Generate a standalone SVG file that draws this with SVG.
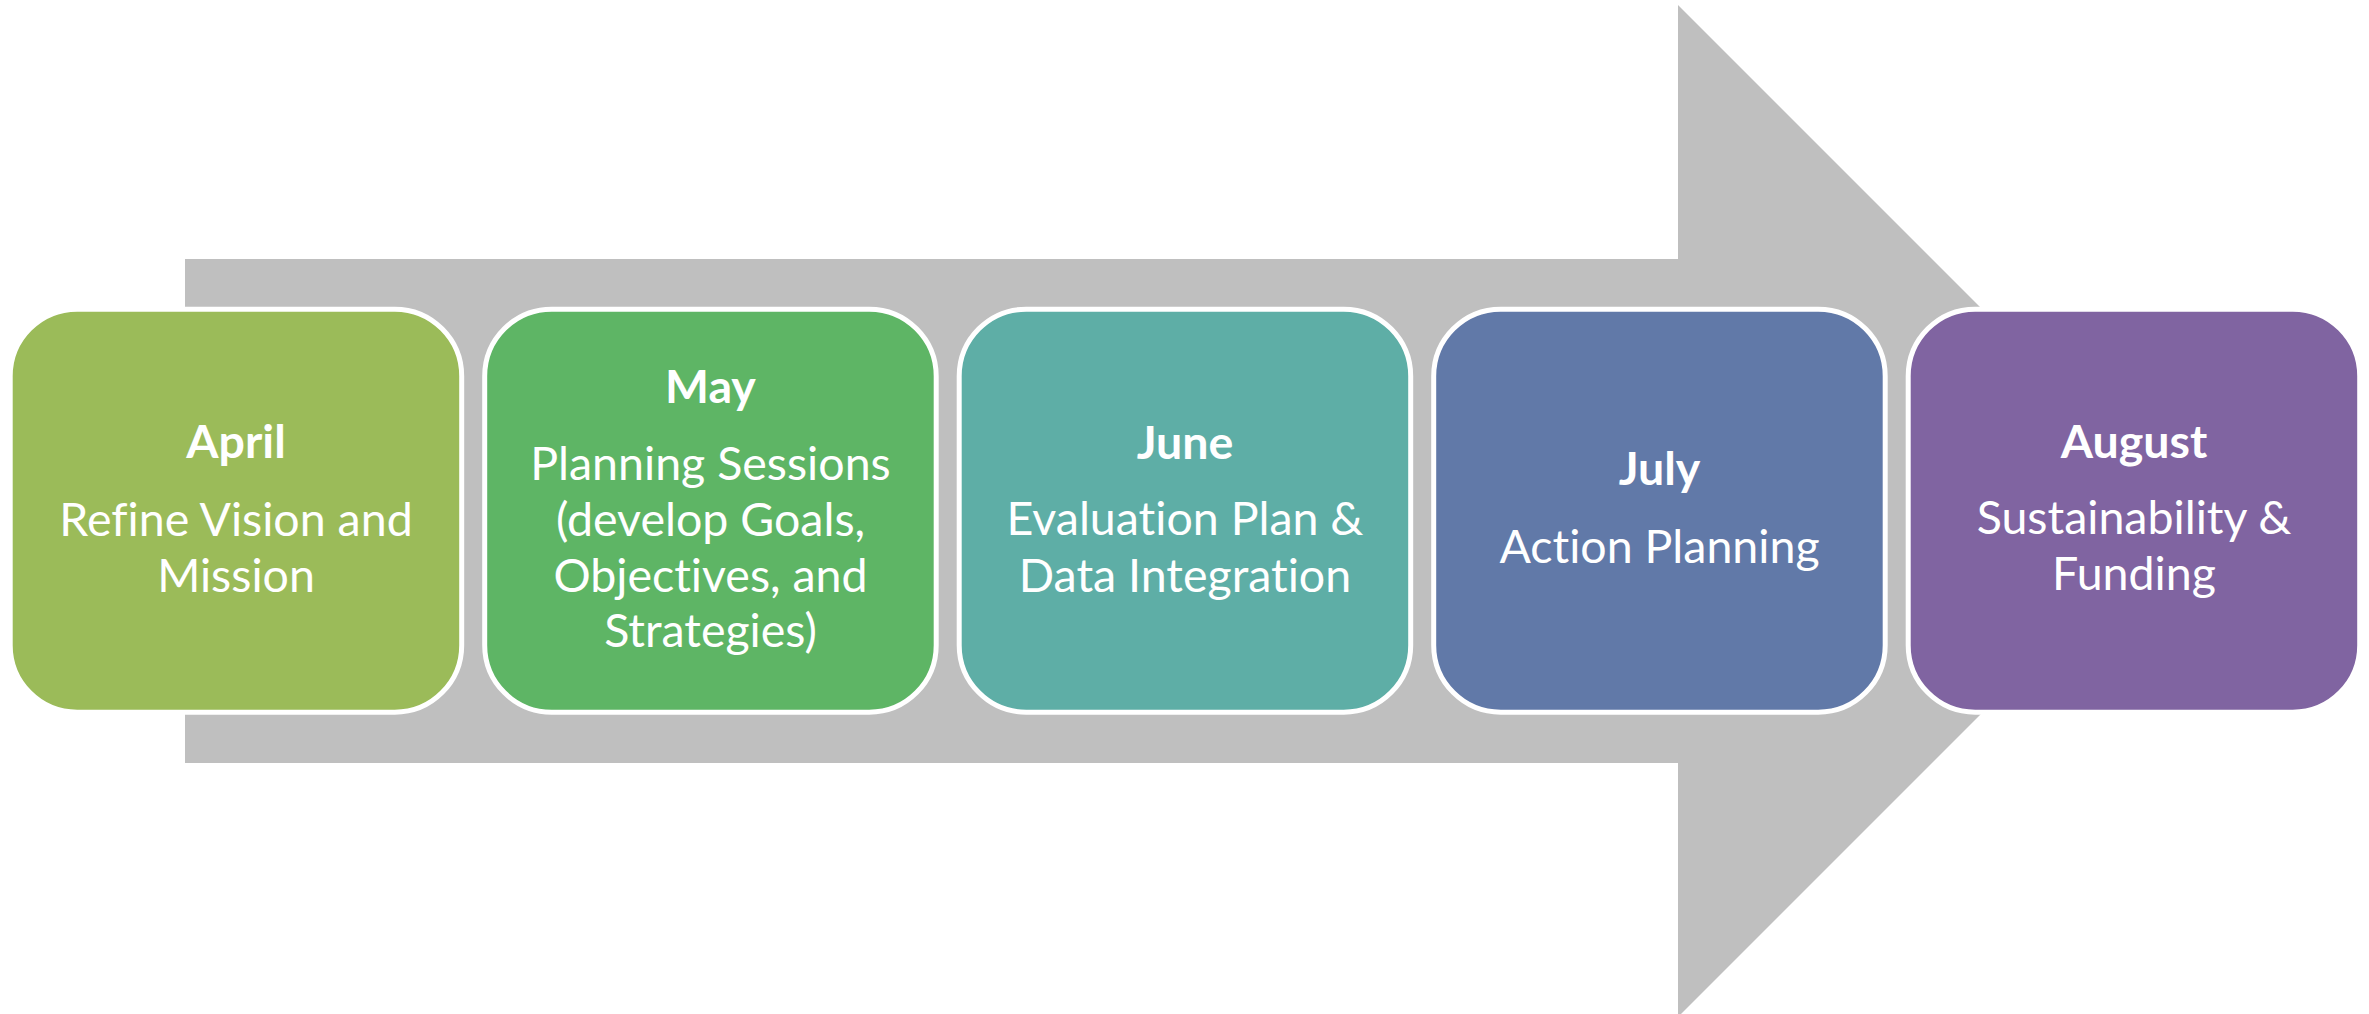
<svg xmlns="http://www.w3.org/2000/svg" width="2369" height="1014" viewBox="0 0 2369 1014">
<style>
.box{stroke:#FFFFFF;stroke-width:5}
.t{font-family:Lato,"Open Sans","Liberation Sans",sans-serif;font-size:46.5px;fill:#FFFFFF;text-anchor:middle;font-variant-ligatures:none;font-feature-settings:"liga" 0,"clig" 0}
.h{font-weight:bold}
</style>
<rect x="0" y="0" width="2369" height="1014" fill="#FFFFFF"/>
<g id="arrow">
<polygon points="185,259 1678,259 1678,5 2184,511 1678,1017 1678,763 185,763" fill="#BFBFBF"/>
</g>
<g id="connectors"></g>
<g id="april">
<rect class="box" x="10.2" y="309.2" width="451.5" height="403" rx="67" fill="#9BBB59"/>
<text class="t h" x="236" y="458">April</text>
<text class="t" x="236" y="536">Refine Vision and</text>
<text class="t" x="236" y="592">Mission</text>
</g>
<g id="may">
<rect class="box" x="484.7" y="309.2" width="451.5" height="403" rx="67" fill="#5EB565"/>
<text class="t h" x="710.5" y="403">May</text>
<text class="t" x="710.5" y="480">Planning Sessions</text>
<text class="t" x="710.5" y="536">(develop Goals,</text>
<text class="t" x="710.5" y="592">Objectives, and</text>
<text class="t" x="710.5" y="647">Strategies)</text>
</g>
<g id="june">
<rect class="box" x="959.2" y="309.2" width="451.5" height="403" rx="67" fill="#5EAEA6"/>
<text class="t h" x="1185" y="459">June</text>
<text class="t" x="1185" y="535">Evaluation Plan &amp;</text>
<text class="t" x="1185" y="592">Data Integration</text>
</g>
<g id="july">
<rect class="box" x="1433.7" y="309.2" width="451.5" height="403" rx="67" fill="#6179A8"/>
<text class="t h" x="1659.5" y="485">July</text>
<text class="t" x="1659.5" y="563">Action Planning</text>
</g>
<g id="august">
<rect class="box" x="1908.2" y="309.2" width="451.5" height="403" rx="67" fill="#8064A1"/>
<text class="t h" x="2134" y="458">August</text>
<text class="t" x="2134" y="534">Sustainability &amp;</text>
<text class="t" x="2134" y="590">Funding</text>
</g>
</svg>
